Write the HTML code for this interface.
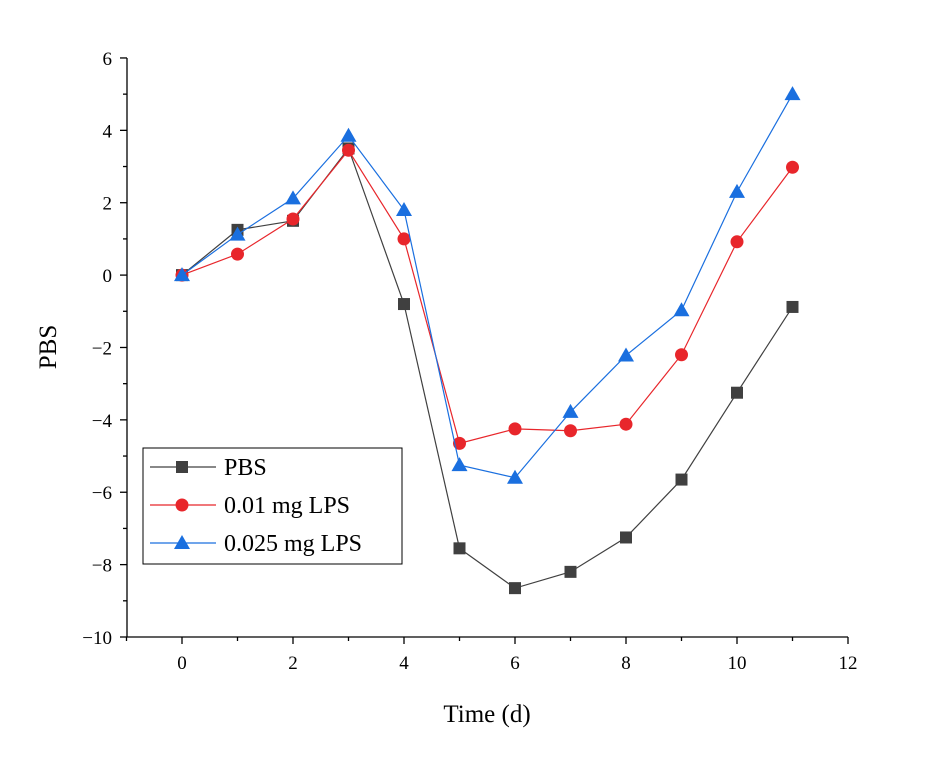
<!DOCTYPE html>
<html><head><meta charset="utf-8"><style>
body{margin:0;background:#fff}
svg text{font-family:"Liberation Serif",serif;fill:#000}
</style></head><body>
<svg id="chart" width="948" height="762" viewBox="0 0 948 762"></svg>
<script>
const days=[0,1,2,3,4,5,6,7,8,9,10,11];
const pbs=[0,1.25,1.5,3.5,-0.8,-7.55,-8.65,-8.2,-7.25,-5.65,-3.25,-0.88];
const lps01=[0,0.58,1.55,3.45,1.0,-4.65,-4.25,-4.3,-4.12,-2.2,0.92,2.98];
const lps025=[0,1.12,2.12,3.85,1.8,-5.25,-5.6,-3.78,-2.22,-0.97,2.3,5.0];
const xTicks=[0,2,4,6,8,10,12];
const yTicks=[-10,-8,-6,-4,-2,0,2,4,6];
const svg=document.getElementById('chart');
const NS='http://www.w3.org/2000/svg';
const x=v=>182+(v-0)*55.5;
const y=v=>275.1-v*36.19;
function mk(tag,attrs,parent){const e=document.createElementNS(NS,tag);for(const k in attrs)e.setAttribute(k,attrs[k]);(parent||svg).appendChild(e);return e;}
const axes=mk('g',{});


mk('line',{x1:127,y1:637,x2:848,y2:637,stroke:'#000','stroke-width':1.3},axes);
mk('line',{x1:127,y1:58,x2:127,y2:637,stroke:'#000','stroke-width':1.3},axes);
for(let v=-1;v<=12;v++){const maj=v%2===0;mk('line',{x1:x(v),y1:637,x2:x(v),y2:637+(maj?7:4),stroke:'#000','stroke-width':1.3},axes);}
xTicks.forEach(v=>{const t=mk('text',{x:x(v),y:669,'text-anchor':'middle','font-size':19},axes);t.textContent=v;

});
for(let v=-10;v<=6;v++){const maj=v%2===0;mk('line',{x1:127,y1:y(v),x2:127-(maj?7:4),y2:y(v),stroke:'#000','stroke-width':1.3},axes);}
yTicks.forEach(v=>{const t=mk('text',{x:112,y:y(v)+7,'text-anchor':'end','font-size':19},axes);t.textContent=(v<0?'\u2212'+(-v):v);

});
const xt=mk('text',{x:487,y:722,'text-anchor':'middle','font-size':25});xt.textContent='Time (d)';


const yt=mk('text',{x:56,y:347,'text-anchor':'middle','font-size':25,transform:'rotate(-90 56 347)'});yt.textContent='PBS';


function marker(g,type,cx,cy,color){
 if(type==='sq')mk('rect',{x:cx-6,y:cy-6,width:12,height:12,fill:color},g);
 else if(type==='ci')mk('circle',{cx:cx,cy:cy,r:6.5,fill:color},g);
 else mk('polygon',{points:`${cx},${cy-8} ${cx-8},${cy+6} ${cx+8},${cy+6}`,fill:color},g);
}
const series=[[pbs,'#404040','sq','pbs'],[lps01,'#e8262b','ci','lps-0.01'],[lps025,'#1a6fdf','tr','lps-0.025']];
series.forEach(([vals,col,m,name])=>{
 const g=mk('g',{});
 
 
 mk('polyline',{points:days.map((d,i)=>x(d)+','+y(vals[i])).join(' '),fill:'none',stroke:col,'stroke-width':1.2},g);
 days.forEach((d,i)=>marker(g,m,x(d),y(vals[i]),col));
});
const lg=mk('g',{});


mk('rect',{x:143,y:448,width:259,height:116,fill:'#fff',stroke:'#000','stroke-width':1},lg);
const labels=['PBS','0.01 mg LPS','0.025 mg LPS'];
series.forEach(([v,col,m],i)=>{const yy=467+i*38;
 mk('line',{x1:150,y1:yy,x2:216,y2:yy,stroke:col,'stroke-width':1.2},lg);
 marker(lg,m,182,yy,col);
 const t=mk('text',{x:224,y:yy+8,'font-size':24},lg);t.textContent=labels[i];
 
 
});
</script>
</body></html>
